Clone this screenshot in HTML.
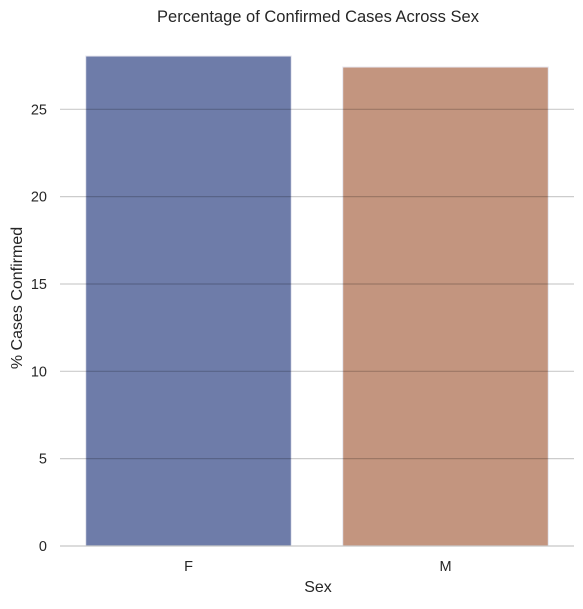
<!DOCTYPE html>
<html><head><meta charset="utf-8"><style>
body{margin:0;background:#fff;font-family:"Liberation Sans",sans-serif;}
</style></head><body>
<svg id="c" width="583" height="604" xmlns="http://www.w3.org/2000/svg"></svg>
<script>
const categories=["F","M"];
const values=[28.05,27.42];
const colors=["#4a5b94","#b47a5f"];
const yTicks=[0,5,10,15,20,25];
const svg=document.getElementById('c');
const NS="http://www.w3.org/2000/svg";
const L=60,R=574,T=40,B=546;
const y=v=>B-v*(B-109.3)/25;
const bw=(R-L)/categories.length;
const x=i=>L+bw*(i+0.5);
function mk(t,a,txt){const e=document.createElementNS(NS,t);for(const k in a)e.setAttribute(k,a[k]);if(txt!==undefined)e.textContent=txt;svg.appendChild(e);return e;}
categories.forEach((c,i)=>{
 const r=mk('rect',{x:x(i)-bw*0.4,y:y(values[i]),width:bw*0.8,height:B-y(values[i]),fill:colors[i],'fill-opacity':0.8,stroke:'#e8e8f0','stroke-width':1});
 
 
 const t=mk('text',{x:x(i),y:571,'text-anchor':'middle','font-size':14.5,fill:'#262626'},c);
 
 
});
yTicks.forEach(v=>{
 if(v>0){const g=mk('line',{x1:L,x2:R,y1:y(v),y2:y(v),stroke:'#000','stroke-opacity':0.2,'stroke-width':1.2});
 
 }
 const t=mk('text',{x:47,y:y(v)+5,'text-anchor':'end','font-size':14.5,fill:'#262626'},v);
 
 
});
const ax=mk('line',{x1:L,x2:R,y1:B,y2:B,stroke:'#c8c8c8','stroke-width':1.2});


const ti=mk('text',{x:318,y:22,'text-anchor':'middle','font-size':16.5,fill:'#262626'},'Percentage of Confirmed Cases Across Sex');


const xl=mk('text',{x:318,y:592,'text-anchor':'middle','font-size':16,fill:'#262626'},'Sex');


const yl=mk('text',{x:22,y:298,'text-anchor':'middle','font-size':16,fill:'#262626',transform:'rotate(-90 22 298)'},'% Cases Confirmed');


</script>
</body></html>
